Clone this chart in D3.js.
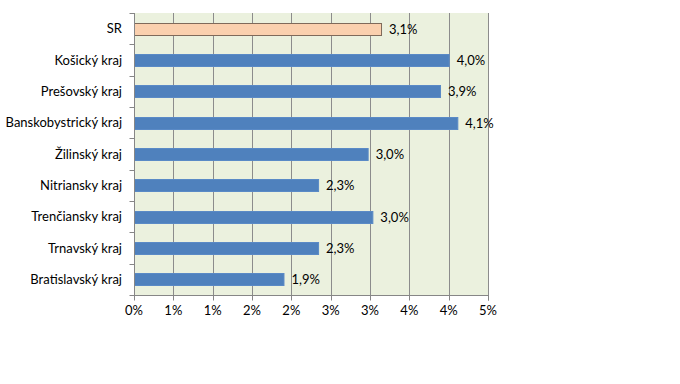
<!DOCTYPE html>
<html><head><meta charset="utf-8">
<script src="https://cdn.jsdelivr.net/npm/d3@7"></script>
<style>body{margin:0;background:#fff}svg{display:block}</style>
</head><body>
<script>
const categories = ["SR","Košický kraj","Prešovský kraj","Banskobystrický kraj","Žilinský kraj","Nitriansky kraj","Trenčiansky kraj","Trnavský kraj","Bratislavský kraj"];
const values = [3.14, 4.00, 3.89, 4.11, 2.97, 2.34, 3.03, 2.34, 1.90];
const tickValues = [0,0.5,1,1.5,2,2.5,3,3.5,4,4.5];
const tickLabels = ["0%","1%","1%","2%","2%","3%","3%","4%","4%","5%"];

const W=680,H=384;
const pL=134,pR=488,pT=13,pB=295;
const svg=d3.select("body").append("svg").attr("width",W).attr("height",H);
const font="Lato, 'Open Sans', sans-serif";
const fs=13;
const x=d3.scaleLinear().domain([0,4.5]).range([pL,pR]);
const y=d3.scaleBand().domain(categories).range([pT,pB]).paddingInner(0.62).paddingOuter(0.31);
const yb=d3.scaleBand().domain(categories).range([pT,pB]);

svg.append("rect").attr("x",pL).attr("y",pT).attr("width",pR-pL).attr("height",pB-pT).attr("fill","#EBF1DE");
svg.append("g").selectAll("line").data(tickValues.slice(1).concat([4.5])).join("line")
  .attr("x1",d=>Math.round(x(d))+0.5).attr("x2",d=>Math.round(x(d))+0.5).attr("y1",pT).attr("y2",pB)
  .attr("stroke","#8c8c8c").attr("stroke-width",1);

svg.append("g").selectAll("rect").data(categories).join("rect")
  .attr("x",x(0)+0.5).attr("y",d=>Math.round(y(d))+0.5)
  .attr("width",(d,i)=>x(values[i])-x(0))
  .attr("height",Math.round(y.bandwidth()))
  .attr("fill",(d,i)=>i===0?"#FAD0AE":"#4F81BD")
  .attr("stroke",(d,i)=>i===0?"#7f6a5a":"#5a8ac6").attr("stroke-width",1);

svg.append("g").selectAll("text").data(categories).join("text")
  .attr("x",(d,i)=>x(values[i])+8).attr("y",d=>yb(d)+yb.bandwidth()/2+0.5)
  .attr("dy","0.35em").attr("font-family",font).attr("font-size",fs).attr("fill","#000")
  .text((d,i)=>values[i].toFixed(1).replace(".",",")+"%");

const gy=svg.append("g").attr("transform",`translate(${pL+0.5},0)`);
gy.append("line").attr("x1",0).attr("x2",0).attr("y1",pT).attr("y2",pB).attr("stroke","#868686");
gy.selectAll(".t").data(d3.range(categories.length+1)).join("line")
  .attr("x1",-5).attr("x2",0).attr("y1",i=>Math.round(pT+i*yb.step())+0.5).attr("y2",i=>Math.round(pT+i*yb.step())+0.5).attr("stroke","#868686");
svg.append("g").selectAll("text").data(categories).join("text")
  .attr("x",pL-12).attr("y",d=>yb(d)+yb.bandwidth()/2).attr("dy","0.35em")
  .attr("text-anchor","end").attr("font-family",font).attr("font-size",fs).attr("fill","#000").text(d=>d);

const gx=svg.append("g").attr("transform",`translate(0,${pB+0.5})`);
gx.append("line").attr("x1",pL).attr("x2",pR+1).attr("y1",0).attr("y2",0).attr("stroke","#868686");
gx.selectAll("line.t").data(tickValues.concat([4.5])).join("line").attr("class","t")
  .attr("x1",d=>Math.round(x(d))+0.5).attr("x2",d=>Math.round(x(d))+0.5).attr("y1",0).attr("y2",5).attr("stroke","#868686");
gx.selectAll("text").data(tickValues).join("text")
  .attr("x",d=>x(d)).attr("y",19).attr("text-anchor","middle")
  .attr("font-family",font).attr("font-size",fs).attr("fill","#000").text((d,i)=>tickLabels[i]);
</script>
</body></html>
